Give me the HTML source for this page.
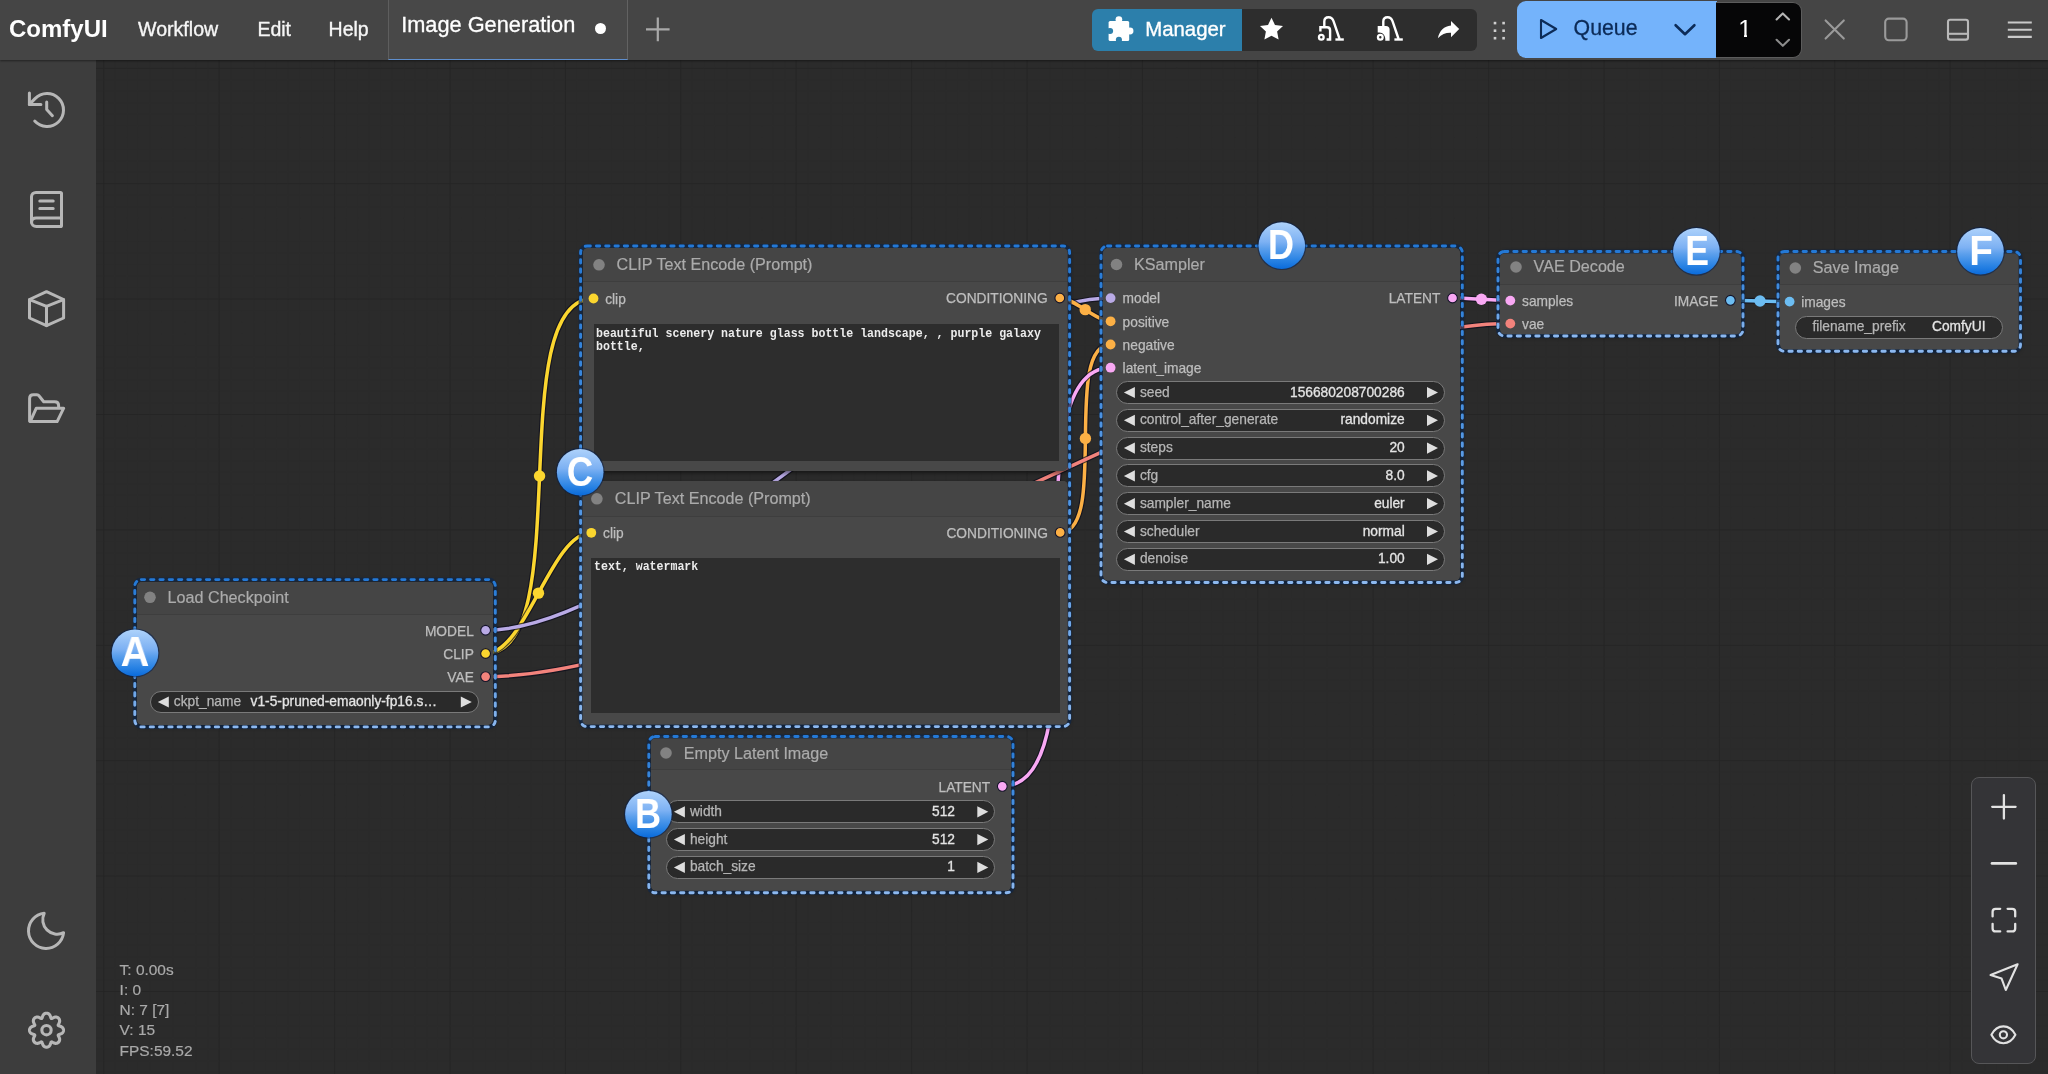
<!DOCTYPE html>
<html lang="en"><head><meta charset="utf-8"><title>ComfyUI</title>
<style>
html,body{margin:0;padding:0;overflow:hidden;}
html{width:2048px;height:1074px;}
body{width:2048px;height:1074px;overflow:hidden;position:relative;background:#2b2b2b;font-family:'Liberation Sans',sans-serif;}
.abs{position:absolute;}
svg{position:absolute;left:0;top:0;overflow:visible;}
</style></head><body><div id="root" style="position:absolute;left:0;top:0;width:2048px;height:1074px;overflow:hidden;will-change:transform;">
<svg width="2048" height="1074" viewBox="0 0 2048 1074">
<defs>
<pattern id="gmin" x="103.3" y="67.8" width="11.540" height="11.540" patternUnits="userSpaceOnUse"><path d="M0 0H11.540M0 0V11.540" stroke="#292929" stroke-width="1" fill="none"/></pattern>
<pattern id="gmaj" x="103.3" y="67.8" width="115.4" height="115.4" patternUnits="userSpaceOnUse"><path d="M0 0H115.4M0 0V115.4" stroke="#232323" stroke-width="1.6" fill="none"/></pattern>
</defs>
<rect x="96" y="60" width="1952" height="1014" fill="url(#gmin)"/>
<rect x="96" y="60" width="1952" height="1014" fill="url(#gmaj)"/>
</svg>
<svg width="2048" height="1074" viewBox="0 0 2048 1074" fill="none" stroke-linecap="round"><path d="M485.60 653.50C578.36 653.50 500.74 298.50 593.50 298.50" stroke="rgba(12,12,28,.72)" stroke-width="5.8"/><path d="M485.60 653.50C578.36 653.50 500.74 298.50 593.50 298.50" stroke="#fbd62f" stroke-width="3.5"/><circle cx="539.55" cy="476.00" r="5.7" fill="#fbd62f"/><path d="M485.60 653.50C525.71 653.50 551.19 532.80 591.30 532.80" stroke="rgba(12,12,28,.72)" stroke-width="5.8"/><path d="M485.60 653.50C525.71 653.50 551.19 532.80 591.30 532.80" stroke="#fbd62f" stroke-width="3.5"/><circle cx="538.45" cy="593.15" r="5.7" fill="#fbd62f"/><path d="M485.60 630.25C662.54 630.25 933.66 298.10 1110.60 298.10" stroke="rgba(12,12,28,.72)" stroke-width="5.8"/><path d="M485.60 630.25C662.54 630.25 933.66 298.10 1110.60 298.10" stroke="#b9aae6" stroke-width="3.5"/><circle cx="798.10" cy="464.18" r="5.7" fill="#b9aae6"/><path d="M1060.20 532.40C1108.84 532.40 1061.96 344.50 1110.60 344.50" stroke="rgba(12,12,28,.72)" stroke-width="5.8"/><path d="M1060.20 532.40C1108.84 532.40 1061.96 344.50 1110.60 344.50" stroke="#fcb045" stroke-width="3.5"/><circle cx="1085.40" cy="438.45" r="5.7" fill="#fcb045"/><path d="M1059.80 298.00C1073.77 298.00 1096.63 321.30 1110.60 321.30" stroke="rgba(12,12,28,.72)" stroke-width="5.8"/><path d="M1059.80 298.00C1073.77 298.00 1096.63 321.30 1110.60 321.30" stroke="#fcb045" stroke-width="3.5"/><circle cx="1085.20" cy="309.65" r="5.7" fill="#fcb045"/><path d="M1002.30 786.30C1110.40 786.30 1002.50 367.70 1110.60 367.70" stroke="rgba(12,12,28,.72)" stroke-width="5.8"/><path d="M1002.30 786.30C1110.40 786.30 1002.50 367.70 1110.60 367.70" stroke="#f9a8f4" stroke-width="3.5"/><circle cx="1056.45" cy="577.00" r="5.7" fill="#f9a8f4"/><path d="M485.60 676.60C756.55 676.60 1239.35 323.60 1510.30 323.60" stroke="rgba(12,12,28,.72)" stroke-width="5.8"/><path d="M485.60 676.60C756.55 676.60 1239.35 323.60 1510.30 323.60" stroke="#f3837c" stroke-width="3.5"/><circle cx="997.95" cy="500.10" r="5.7" fill="#f3837c"/><path d="M1452.50 298.00C1466.96 298.00 1495.84 300.60 1510.30 300.60" stroke="rgba(12,12,28,.72)" stroke-width="5.8"/><path d="M1452.50 298.00C1466.96 298.00 1495.84 300.60 1510.30 300.60" stroke="#f9a8f4" stroke-width="3.5"/><circle cx="1481.40" cy="299.30" r="5.7" fill="#f9a8f4"/><path d="M1730.40 300.30C1745.20 300.30 1774.80 301.60 1789.60 301.60" stroke="rgba(12,12,28,.72)" stroke-width="5.8"/><path d="M1730.40 300.30C1745.20 300.30 1774.80 301.60 1789.60 301.60" stroke="#6cbdf2" stroke-width="3.5"/><circle cx="1760.00" cy="300.95" r="5.7" fill="#6cbdf2"/></svg>
<div class="abs" style="left:137px;top:582px;width:356.00px;height:142.60px;background:#484848;border-radius:5px;box-shadow:1px 2px 4px rgba(0,0,0,.5);"></div>
<div class="abs" style="left:137px;top:582px;width:356.00px;height:32.60px;background:#454545;border-radius:5px 5px 0 0;border-bottom:1.2px solid #3e3e3e;box-sizing:border-box;"></div>
<div style="position:absolute;top:586.66px;line-height:20.99px;font-size:16.15px;color:#ababab;font-weight:400;font-family:'Liberation Sans',sans-serif;white-space:pre;left:167.60px;-webkit-text-stroke:0.2px #ababab;">Load Checkpoint</div>
<div style="position:absolute;top:622.50px;line-height:17.88px;font-size:13.75px;color:#bdbdbd;font-weight:400;font-family:'Liberation Sans',sans-serif;white-space:pre;right:1574.20px;-webkit-text-stroke:0.25px #bdbdbd;">MODEL</div>
<div style="position:absolute;top:645.75px;line-height:17.88px;font-size:13.75px;color:#bdbdbd;font-weight:400;font-family:'Liberation Sans',sans-serif;white-space:pre;right:1574.20px;-webkit-text-stroke:0.25px #bdbdbd;">CLIP</div>
<div style="position:absolute;top:668.85px;line-height:17.88px;font-size:13.75px;color:#bdbdbd;font-weight:400;font-family:'Liberation Sans',sans-serif;white-space:pre;right:1574.20px;-webkit-text-stroke:0.25px #bdbdbd;">VAE</div>
<div class="abs" style="left:150.2px;top:690.60px;width:328.60px;height:22.8px;background:#2a2a2a;border:1.3px solid #7a7a7a;border-radius:12.4px;box-sizing:border-box;"></div>
<div style="position:absolute;top:693.00px;line-height:17.88px;font-size:13.75px;color:#b6b6b6;font-weight:400;font-family:'Liberation Sans',sans-serif;white-space:pre;left:173.80px;-webkit-text-stroke:0.25px #b6b6b6;">ckpt_name</div>
<div style="position:absolute;top:693.00px;line-height:17.88px;font-size:13.75px;color:#e4e4e4;font-weight:400;font-family:'Liberation Sans',sans-serif;white-space:pre;right:1609.50px;-webkit-text-stroke:0.3px #e4e4e4;"></div>
<div style="position:absolute;top:693.00px;line-height:17.88px;font-size:13.75px;color:#e4e4e4;font-weight:400;font-family:'Liberation Sans',sans-serif;white-space:pre;left:250.60px;-webkit-text-stroke:0.3px #e4e4e4;">v1-5-pruned-emaonly-fp16.s…</div>
<div class="abs" style="left:583px;top:248px;width:484.60px;height:223.30px;background:#484848;border-radius:5px;box-shadow:1px 2px 4px rgba(0,0,0,.5);"></div>
<div class="abs" style="left:583px;top:248px;width:484.60px;height:34.40px;background:#454545;border-radius:5px 5px 0 0;border-bottom:1.2px solid #3e3e3e;box-sizing:border-box;"></div>
<div style="position:absolute;top:253.91px;line-height:20.99px;font-size:16.15px;color:#ababab;font-weight:400;font-family:'Liberation Sans',sans-serif;white-space:pre;left:616.60px;-webkit-text-stroke:0.2px #ababab;">CLIP Text Encode (Prompt)</div>
<div style="position:absolute;top:290.75px;line-height:17.88px;font-size:13.75px;color:#bdbdbd;font-weight:400;font-family:'Liberation Sans',sans-serif;white-space:pre;left:605.20px;-webkit-text-stroke:0.25px #bdbdbd;">clip</div>
<div style="position:absolute;top:290.25px;line-height:17.88px;font-size:13.75px;color:#bdbdbd;font-weight:400;font-family:'Liberation Sans',sans-serif;white-space:pre;right:1000.40px;-webkit-text-stroke:0.25px #bdbdbd;">CONDITIONING</div>
<div class="abs" style="left:593.5px;top:324.4px;width:465.30px;height:136.20px;background:#2d2d2d;"></div>
<div style="position:absolute;top:324.53px;line-height:17.55px;font-size:13.5px;color:#ececec;font-weight:700;font-family:'Liberation Mono',monospace;white-space:pre;left:596.00px;transform:scaleX(0.858);transform-origin:left center;">beautiful scenery nature glass bottle landscape, , purple galaxy</div>
<div style="position:absolute;top:338.28px;line-height:17.55px;font-size:13.5px;color:#ececec;font-weight:700;font-family:'Liberation Mono',monospace;white-space:pre;left:596.00px;transform:scaleX(0.858);transform-origin:left center;">bottle,</div>
<div class="abs" style="left:580.8px;top:481px;width:486.80px;height:243.60px;background:#484848;border-radius:5px;box-shadow:1px 2px 4px rgba(0,0,0,.5);"></div>
<div class="abs" style="left:580.8px;top:481px;width:486.80px;height:36.20px;background:#454545;border-radius:5px 5px 0 0;border-bottom:1.2px solid #3e3e3e;box-sizing:border-box;"></div>
<div style="position:absolute;top:488.31px;line-height:20.99px;font-size:16.15px;color:#ababab;font-weight:400;font-family:'Liberation Sans',sans-serif;white-space:pre;left:614.80px;-webkit-text-stroke:0.2px #ababab;">CLIP Text Encode (Prompt)</div>
<div style="position:absolute;top:525.05px;line-height:17.88px;font-size:13.75px;color:#bdbdbd;font-weight:400;font-family:'Liberation Sans',sans-serif;white-space:pre;left:603.00px;-webkit-text-stroke:0.25px #bdbdbd;">clip</div>
<div style="position:absolute;top:524.65px;line-height:17.88px;font-size:13.75px;color:#bdbdbd;font-weight:400;font-family:'Liberation Sans',sans-serif;white-space:pre;right:1000.00px;-webkit-text-stroke:0.25px #bdbdbd;">CONDITIONING</div>
<div class="abs" style="left:591.2px;top:558.0px;width:468.60px;height:155.40px;background:#2d2d2d;"></div>
<div style="position:absolute;top:558.33px;line-height:17.55px;font-size:13.5px;color:#ececec;font-weight:700;font-family:'Liberation Mono',monospace;white-space:pre;left:594.00px;transform:scaleX(0.858);transform-origin:left center;">text, watermark</div>
<div class="abs" style="left:1103px;top:248px;width:357.20px;height:332.80px;background:#484848;border-radius:5px;box-shadow:1px 2px 4px rgba(0,0,0,.5);"></div>
<div class="abs" style="left:1103px;top:248px;width:357.20px;height:34.40px;background:#454545;border-radius:5px 5px 0 0;border-bottom:1.2px solid #3e3e3e;box-sizing:border-box;"></div>
<div style="position:absolute;top:253.71px;line-height:20.99px;font-size:16.15px;color:#ababab;font-weight:400;font-family:'Liberation Sans',sans-serif;white-space:pre;left:1134.00px;-webkit-text-stroke:0.2px #ababab;">KSampler</div>
<div style="position:absolute;top:290.35px;line-height:17.88px;font-size:13.75px;color:#bdbdbd;font-weight:400;font-family:'Liberation Sans',sans-serif;white-space:pre;left:1122.60px;-webkit-text-stroke:0.25px #bdbdbd;">model</div>
<div style="position:absolute;top:313.55px;line-height:17.88px;font-size:13.75px;color:#bdbdbd;font-weight:400;font-family:'Liberation Sans',sans-serif;white-space:pre;left:1122.60px;-webkit-text-stroke:0.25px #bdbdbd;">positive</div>
<div style="position:absolute;top:336.75px;line-height:17.88px;font-size:13.75px;color:#bdbdbd;font-weight:400;font-family:'Liberation Sans',sans-serif;white-space:pre;left:1122.60px;-webkit-text-stroke:0.25px #bdbdbd;">negative</div>
<div style="position:absolute;top:359.95px;line-height:17.88px;font-size:13.75px;color:#bdbdbd;font-weight:400;font-family:'Liberation Sans',sans-serif;white-space:pre;left:1122.60px;-webkit-text-stroke:0.25px #bdbdbd;">latent_image</div>
<div style="position:absolute;top:290.25px;line-height:17.88px;font-size:13.75px;color:#bdbdbd;font-weight:400;font-family:'Liberation Sans',sans-serif;white-space:pre;right:607.60px;-webkit-text-stroke:0.25px #bdbdbd;">LATENT</div>
<div class="abs" style="left:1116.3px;top:381.00px;width:328.70px;height:23.0px;background:#2a2a2a;border:1.3px solid #7a7a7a;border-radius:12.5px;box-sizing:border-box;"></div>
<div style="position:absolute;top:383.50px;line-height:17.88px;font-size:13.75px;color:#b6b6b6;font-weight:400;font-family:'Liberation Sans',sans-serif;white-space:pre;left:1139.90px;-webkit-text-stroke:0.25px #b6b6b6;">seed</div>
<div style="position:absolute;top:383.50px;line-height:17.88px;font-size:13.75px;color:#e4e4e4;font-weight:400;font-family:'Liberation Sans',sans-serif;white-space:pre;right:643.30px;-webkit-text-stroke:0.3px #e4e4e4;">156680208700286</div>
<div class="abs" style="left:1116.3px;top:408.80px;width:328.70px;height:23.0px;background:#2a2a2a;border:1.3px solid #7a7a7a;border-radius:12.5px;box-sizing:border-box;"></div>
<div style="position:absolute;top:411.30px;line-height:17.88px;font-size:13.75px;color:#b6b6b6;font-weight:400;font-family:'Liberation Sans',sans-serif;white-space:pre;left:1139.90px;-webkit-text-stroke:0.25px #b6b6b6;">control_after_generate</div>
<div style="position:absolute;top:411.30px;line-height:17.88px;font-size:13.75px;color:#e4e4e4;font-weight:400;font-family:'Liberation Sans',sans-serif;white-space:pre;right:643.30px;-webkit-text-stroke:0.3px #e4e4e4;">randomize</div>
<div class="abs" style="left:1116.3px;top:436.60px;width:328.70px;height:23.0px;background:#2a2a2a;border:1.3px solid #7a7a7a;border-radius:12.5px;box-sizing:border-box;"></div>
<div style="position:absolute;top:439.10px;line-height:17.88px;font-size:13.75px;color:#b6b6b6;font-weight:400;font-family:'Liberation Sans',sans-serif;white-space:pre;left:1139.90px;-webkit-text-stroke:0.25px #b6b6b6;">steps</div>
<div style="position:absolute;top:439.10px;line-height:17.88px;font-size:13.75px;color:#e4e4e4;font-weight:400;font-family:'Liberation Sans',sans-serif;white-space:pre;right:643.30px;-webkit-text-stroke:0.3px #e4e4e4;">20</div>
<div class="abs" style="left:1116.3px;top:464.40px;width:328.70px;height:23.0px;background:#2a2a2a;border:1.3px solid #7a7a7a;border-radius:12.5px;box-sizing:border-box;"></div>
<div style="position:absolute;top:466.90px;line-height:17.88px;font-size:13.75px;color:#b6b6b6;font-weight:400;font-family:'Liberation Sans',sans-serif;white-space:pre;left:1139.90px;-webkit-text-stroke:0.25px #b6b6b6;">cfg</div>
<div style="position:absolute;top:466.90px;line-height:17.88px;font-size:13.75px;color:#e4e4e4;font-weight:400;font-family:'Liberation Sans',sans-serif;white-space:pre;right:643.30px;-webkit-text-stroke:0.3px #e4e4e4;">8.0</div>
<div class="abs" style="left:1116.3px;top:492.20px;width:328.70px;height:23.0px;background:#2a2a2a;border:1.3px solid #7a7a7a;border-radius:12.5px;box-sizing:border-box;"></div>
<div style="position:absolute;top:494.70px;line-height:17.88px;font-size:13.75px;color:#b6b6b6;font-weight:400;font-family:'Liberation Sans',sans-serif;white-space:pre;left:1139.90px;-webkit-text-stroke:0.25px #b6b6b6;">sampler_name</div>
<div style="position:absolute;top:494.70px;line-height:17.88px;font-size:13.75px;color:#e4e4e4;font-weight:400;font-family:'Liberation Sans',sans-serif;white-space:pre;right:643.30px;-webkit-text-stroke:0.3px #e4e4e4;">euler</div>
<div class="abs" style="left:1116.3px;top:520.00px;width:328.70px;height:23.0px;background:#2a2a2a;border:1.3px solid #7a7a7a;border-radius:12.5px;box-sizing:border-box;"></div>
<div style="position:absolute;top:522.50px;line-height:17.88px;font-size:13.75px;color:#b6b6b6;font-weight:400;font-family:'Liberation Sans',sans-serif;white-space:pre;left:1139.90px;-webkit-text-stroke:0.25px #b6b6b6;">scheduler</div>
<div style="position:absolute;top:522.50px;line-height:17.88px;font-size:13.75px;color:#e4e4e4;font-weight:400;font-family:'Liberation Sans',sans-serif;white-space:pre;right:643.30px;-webkit-text-stroke:0.3px #e4e4e4;">normal</div>
<div class="abs" style="left:1116.3px;top:547.80px;width:328.70px;height:23.0px;background:#2a2a2a;border:1.3px solid #7a7a7a;border-radius:12.5px;box-sizing:border-box;"></div>
<div style="position:absolute;top:550.30px;line-height:17.88px;font-size:13.75px;color:#b6b6b6;font-weight:400;font-family:'Liberation Sans',sans-serif;white-space:pre;left:1139.90px;-webkit-text-stroke:0.25px #b6b6b6;">denoise</div>
<div style="position:absolute;top:550.30px;line-height:17.88px;font-size:13.75px;color:#e4e4e4;font-weight:400;font-family:'Liberation Sans',sans-serif;white-space:pre;right:643.30px;-webkit-text-stroke:0.3px #e4e4e4;">1.00</div>
<div class="abs" style="left:1500px;top:250.2px;width:241.20px;height:84.40px;background:#484848;border-radius:5px;box-shadow:1px 2px 4px rgba(0,0,0,.5);"></div>
<div class="abs" style="left:1500px;top:250.2px;width:241.20px;height:34.40px;background:#454545;border-radius:5px 5px 0 0;border-bottom:1.2px solid #3e3e3e;box-sizing:border-box;"></div>
<div style="position:absolute;top:255.91px;line-height:20.99px;font-size:16.15px;color:#ababab;font-weight:400;font-family:'Liberation Sans',sans-serif;white-space:pre;left:1533.60px;-webkit-text-stroke:0.2px #ababab;">VAE Decode</div>
<div style="position:absolute;top:292.85px;line-height:17.88px;font-size:13.75px;color:#bdbdbd;font-weight:400;font-family:'Liberation Sans',sans-serif;white-space:pre;left:1522.00px;-webkit-text-stroke:0.25px #bdbdbd;">samples</div>
<div style="position:absolute;top:315.85px;line-height:17.88px;font-size:13.75px;color:#bdbdbd;font-weight:400;font-family:'Liberation Sans',sans-serif;white-space:pre;left:1522.00px;-webkit-text-stroke:0.25px #bdbdbd;">vae</div>
<div style="position:absolute;top:292.55px;line-height:17.88px;font-size:13.75px;color:#bdbdbd;font-weight:400;font-family:'Liberation Sans',sans-serif;white-space:pre;right:329.80px;-webkit-text-stroke:0.25px #bdbdbd;">IMAGE</div>
<div class="abs" style="left:1780px;top:251px;width:238.60px;height:99.00px;background:#484848;border-radius:5px;box-shadow:1px 2px 4px rgba(0,0,0,.5);"></div>
<div class="abs" style="left:1780px;top:251px;width:238.60px;height:34.40px;background:#454545;border-radius:5px 5px 0 0;border-bottom:1.2px solid #3e3e3e;box-sizing:border-box;"></div>
<div style="position:absolute;top:256.91px;line-height:20.99px;font-size:16.15px;color:#ababab;font-weight:400;font-family:'Liberation Sans',sans-serif;white-space:pre;left:1812.80px;-webkit-text-stroke:0.2px #ababab;">Save Image</div>
<div style="position:absolute;top:293.85px;line-height:17.88px;font-size:13.75px;color:#bdbdbd;font-weight:400;font-family:'Liberation Sans',sans-serif;white-space:pre;left:1801.20px;-webkit-text-stroke:0.25px #bdbdbd;">images</div>
<div class="abs" style="left:1795.0px;top:316.00px;width:208.30px;height:22.8px;background:#2a2a2a;border:1.3px solid #7a7a7a;border-radius:12.4px;box-sizing:border-box;"></div>
<div style="position:absolute;top:317.60px;line-height:17.88px;font-size:13.75px;color:#b6b6b6;font-weight:400;font-family:'Liberation Sans',sans-serif;white-space:pre;left:1812.40px;-webkit-text-stroke:0.25px #b6b6b6;">filename_prefix</div>
<div style="position:absolute;top:317.60px;line-height:17.88px;font-size:13.75px;color:#e4e4e4;font-weight:400;font-family:'Liberation Sans',sans-serif;white-space:pre;right:62.50px;-webkit-text-stroke:0.3px #e4e4e4;">ComfyUI</div>
<div class="abs" style="left:651px;top:735.8px;width:360.00px;height:155.20px;background:#484848;border-radius:5px;box-shadow:1px 2px 4px rgba(0,0,0,.5);"></div>
<div class="abs" style="left:651px;top:735.8px;width:360.00px;height:34.60px;background:#454545;border-radius:5px 5px 0 0;border-bottom:1.2px solid #3e3e3e;box-sizing:border-box;"></div>
<div style="position:absolute;top:742.71px;line-height:20.99px;font-size:16.15px;color:#ababab;font-weight:400;font-family:'Liberation Sans',sans-serif;white-space:pre;left:683.80px;-webkit-text-stroke:0.2px #ababab;">Empty Latent Image</div>
<div style="position:absolute;top:778.55px;line-height:17.88px;font-size:13.75px;color:#bdbdbd;font-weight:400;font-family:'Liberation Sans',sans-serif;white-space:pre;right:1057.80px;-webkit-text-stroke:0.25px #bdbdbd;">LATENT</div>
<div class="abs" style="left:666.3px;top:800.30px;width:329.00px;height:23.0px;background:#2a2a2a;border:1.3px solid #7a7a7a;border-radius:12.5px;box-sizing:border-box;"></div>
<div style="position:absolute;top:802.80px;line-height:17.88px;font-size:13.75px;color:#b6b6b6;font-weight:400;font-family:'Liberation Sans',sans-serif;white-space:pre;left:689.90px;-webkit-text-stroke:0.25px #b6b6b6;">width</div>
<div style="position:absolute;top:802.80px;line-height:17.88px;font-size:13.75px;color:#e4e4e4;font-weight:400;font-family:'Liberation Sans',sans-serif;white-space:pre;right:1093.00px;-webkit-text-stroke:0.3px #e4e4e4;">512</div>
<div class="abs" style="left:666.3px;top:828.10px;width:329.00px;height:23.0px;background:#2a2a2a;border:1.3px solid #7a7a7a;border-radius:12.5px;box-sizing:border-box;"></div>
<div style="position:absolute;top:830.60px;line-height:17.88px;font-size:13.75px;color:#b6b6b6;font-weight:400;font-family:'Liberation Sans',sans-serif;white-space:pre;left:689.90px;-webkit-text-stroke:0.25px #b6b6b6;">height</div>
<div style="position:absolute;top:830.60px;line-height:17.88px;font-size:13.75px;color:#e4e4e4;font-weight:400;font-family:'Liberation Sans',sans-serif;white-space:pre;right:1093.00px;-webkit-text-stroke:0.3px #e4e4e4;">512</div>
<div class="abs" style="left:666.3px;top:855.90px;width:329.00px;height:23.0px;background:#2a2a2a;border:1.3px solid #7a7a7a;border-radius:12.5px;box-sizing:border-box;"></div>
<div style="position:absolute;top:858.40px;line-height:17.88px;font-size:13.75px;color:#b6b6b6;font-weight:400;font-family:'Liberation Sans',sans-serif;white-space:pre;left:689.90px;-webkit-text-stroke:0.25px #b6b6b6;">batch_size</div>
<div style="position:absolute;top:858.40px;line-height:17.88px;font-size:13.75px;color:#e4e4e4;font-weight:400;font-family:'Liberation Sans',sans-serif;white-space:pre;right:1093.00px;-webkit-text-stroke:0.3px #e4e4e4;">1</div>
<svg width="2048" height="1074" viewBox="0 0 2048 1074"><circle cx="150" cy="597.3" r="5.8" fill="#828282"/><circle cx="485.6" cy="630.25" r="4.9" fill="#b9aae6" stroke="#15152a" stroke-width="1.1"/><circle cx="485.6" cy="653.5" r="4.9" fill="#fbd62f" stroke="#15152a" stroke-width="1.1"/><circle cx="485.6" cy="676.6" r="4.9" fill="#f3837c" stroke="#15152a" stroke-width="1.1"/><path d="M168.80 696.40V707.60L157.80 702.00Z" fill="#dedede"/><path d="M460.80 696.40V707.60L471.80 702.00Z" fill="#dedede"/><circle cx="599" cy="264.8" r="5.8" fill="#828282"/><circle cx="593.5" cy="298.5" r="4.9" fill="#fbd62f"/><circle cx="1059.8" cy="298.0" r="4.9" fill="#fcb045" stroke="#15152a" stroke-width="1.1"/><circle cx="596.9" cy="498.8" r="5.8" fill="#828282"/><circle cx="591.3" cy="532.8" r="4.9" fill="#fbd62f"/><circle cx="1060.2" cy="532.4" r="4.9" fill="#fcb045" stroke="#15152a" stroke-width="1.1"/><circle cx="1116.5" cy="264.5" r="5.8" fill="#828282"/><circle cx="1110.6" cy="298.1" r="4.9" fill="#b9aae6"/><circle cx="1110.6" cy="321.3" r="4.9" fill="#fcb045"/><circle cx="1110.6" cy="344.5" r="4.9" fill="#fcb045"/><circle cx="1110.6" cy="367.70000000000005" r="4.9" fill="#f9a8f4"/><circle cx="1452.5" cy="298.0" r="4.9" fill="#f9a8f4" stroke="#15152a" stroke-width="1.1"/><path d="M1134.90 386.90V398.10L1123.90 392.50Z" fill="#dedede"/><path d="M1427.00 386.90V398.10L1438.00 392.50Z" fill="#dedede"/><path d="M1134.90 414.70V425.90L1123.90 420.30Z" fill="#dedede"/><path d="M1427.00 414.70V425.90L1438.00 420.30Z" fill="#dedede"/><path d="M1134.90 442.50V453.70L1123.90 448.10Z" fill="#dedede"/><path d="M1427.00 442.50V453.70L1438.00 448.10Z" fill="#dedede"/><path d="M1134.90 470.30V481.50L1123.90 475.90Z" fill="#dedede"/><path d="M1427.00 470.30V481.50L1438.00 475.90Z" fill="#dedede"/><path d="M1134.90 498.10V509.30L1123.90 503.70Z" fill="#dedede"/><path d="M1427.00 498.10V509.30L1438.00 503.70Z" fill="#dedede"/><path d="M1134.90 525.90V537.10L1123.90 531.50Z" fill="#dedede"/><path d="M1427.00 525.90V537.10L1438.00 531.50Z" fill="#dedede"/><path d="M1134.90 553.70V564.90L1123.90 559.30Z" fill="#dedede"/><path d="M1427.00 553.70V564.90L1438.00 559.30Z" fill="#dedede"/><circle cx="1516.0" cy="267.0" r="5.8" fill="#828282"/><circle cx="1510.3" cy="300.6" r="4.9" fill="#f9a8f4"/><circle cx="1510.3" cy="323.6" r="4.9" fill="#f3837c"/><circle cx="1730.4" cy="300.3" r="4.9" fill="#6cbdf2" stroke="#15152a" stroke-width="1.1"/><circle cx="1795.3" cy="268.0" r="5.8" fill="#828282"/><circle cx="1789.6" cy="301.6" r="4.9" fill="#6cbdf2"/><circle cx="666.0" cy="753.0" r="5.8" fill="#828282"/><circle cx="1002.3" cy="786.3" r="4.9" fill="#f9a8f4" stroke="#15152a" stroke-width="1.1"/><path d="M684.90 806.20V817.40L673.90 811.80Z" fill="#dedede"/><path d="M977.30 806.20V817.40L988.30 811.80Z" fill="#dedede"/><path d="M684.90 834.00V845.20L673.90 839.60Z" fill="#dedede"/><path d="M977.30 834.00V845.20L988.30 839.60Z" fill="#dedede"/><path d="M684.90 861.80V873.00L673.90 867.40Z" fill="#dedede"/><path d="M977.30 861.80V873.00L988.30 867.40Z" fill="#dedede"/></svg>
<svg width="2048" height="1074" viewBox="0 0 2048 1074" fill="none"><defs><linearGradient id="dg0" gradientUnits="userSpaceOnUse" x1="134.8" y1="579.6" x2="134.8" y2="726.9"><stop offset="0" stop-color="#2479d6"/><stop offset="0.5" stop-color="#4a92e2"/><stop offset="1" stop-color="#8cb8ef"/></linearGradient><linearGradient id="dg1" gradientUnits="userSpaceOnUse" x1="580.6" y1="246.0" x2="580.6" y2="726.6"><stop offset="0" stop-color="#2479d6"/><stop offset="0.5" stop-color="#4a92e2"/><stop offset="1" stop-color="#8cb8ef"/></linearGradient><linearGradient id="dg2" gradientUnits="userSpaceOnUse" x1="1101.0" y1="246.0" x2="1101.0" y2="582.5"><stop offset="0" stop-color="#2479d6"/><stop offset="0.5" stop-color="#4a92e2"/><stop offset="1" stop-color="#8cb8ef"/></linearGradient><linearGradient id="dg3" gradientUnits="userSpaceOnUse" x1="1498.0" y1="251.5" x2="1498.0" y2="336.0"><stop offset="0" stop-color="#2479d6"/><stop offset="0.5" stop-color="#4a92e2"/><stop offset="1" stop-color="#8cb8ef"/></linearGradient><linearGradient id="dg4" gradientUnits="userSpaceOnUse" x1="1778.0" y1="251.5" x2="1778.0" y2="351.3"><stop offset="0" stop-color="#2479d6"/><stop offset="0.5" stop-color="#4a92e2"/><stop offset="1" stop-color="#8cb8ef"/></linearGradient><linearGradient id="dg5" gradientUnits="userSpaceOnUse" x1="648.8" y1="736.5" x2="648.8" y2="892.8"><stop offset="0" stop-color="#2479d6"/><stop offset="0.5" stop-color="#4a92e2"/><stop offset="1" stop-color="#8cb8ef"/></linearGradient></defs><rect x="134.8" y="579.6" width="360.50" height="147.30" rx="6.5" stroke="#0e2748" stroke-opacity=".7" stroke-width="4.0"/><rect x="134.8" y="579.6" width="360.50" height="147.30" rx="6.5" stroke="url(#dg0)" stroke-width="2.9" stroke-linecap="round" stroke-dasharray="3.3 6.0"/><rect x="580.6" y="246.0" width="489.00" height="480.60" rx="6.5" stroke="#0e2748" stroke-opacity=".7" stroke-width="4.0"/><rect x="580.6" y="246.0" width="489.00" height="480.60" rx="6.5" stroke="url(#dg1)" stroke-width="2.9" stroke-linecap="round" stroke-dasharray="3.3 6.0"/><rect x="1101.0" y="246.0" width="361.30" height="336.50" rx="6.5" stroke="#0e2748" stroke-opacity=".7" stroke-width="4.0"/><rect x="1101.0" y="246.0" width="361.30" height="336.50" rx="6.5" stroke="url(#dg2)" stroke-width="2.9" stroke-linecap="round" stroke-dasharray="3.3 6.0"/><rect x="1498.0" y="251.5" width="245.00" height="84.50" rx="6.5" stroke="#0e2748" stroke-opacity=".7" stroke-width="4.0"/><rect x="1498.0" y="251.5" width="245.00" height="84.50" rx="6.5" stroke="url(#dg3)" stroke-width="2.9" stroke-linecap="round" stroke-dasharray="3.3 6.0"/><rect x="1778.0" y="251.5" width="242.50" height="99.80" rx="6.5" stroke="#0e2748" stroke-opacity=".7" stroke-width="4.0"/><rect x="1778.0" y="251.5" width="242.50" height="99.80" rx="6.5" stroke="url(#dg4)" stroke-width="2.9" stroke-linecap="round" stroke-dasharray="3.3 6.0"/><rect x="648.8" y="736.5" width="364.20" height="156.30" rx="6.5" stroke="#0e2748" stroke-opacity=".7" stroke-width="4.0"/><rect x="648.8" y="736.5" width="364.20" height="156.30" rx="6.5" stroke="url(#dg5)" stroke-width="2.9" stroke-linecap="round" stroke-dasharray="3.3 6.0"/></svg>
<svg width="2048" height="1074" viewBox="0 0 2048 1074"><defs><linearGradient id="bg" x1="0" y1="0" x2="0" y2="1"><stop offset="0" stop-color="#aed2fb"/><stop offset="0.42" stop-color="#7db1f3"/><stop offset="0.56" stop-color="#5b9fec"/><stop offset="0.8" stop-color="#2b84e4"/><stop offset="1" stop-color="#0a6bdb"/></linearGradient></defs><circle cx="135.0" cy="652.9" r="24.5" fill="#061f4e" fill-opacity=".55"/><circle cx="135.0" cy="652.9" r="23.3" fill="url(#bg)"/><circle cx="648.4" cy="814.2" r="24.5" fill="#061f4e" fill-opacity=".55"/><circle cx="648.4" cy="814.2" r="23.3" fill="url(#bg)"/><circle cx="580.2" cy="472.2" r="24.5" fill="#061f4e" fill-opacity=".55"/><circle cx="580.2" cy="472.2" r="23.3" fill="url(#bg)"/><circle cx="1281.8" cy="245.6" r="24.5" fill="#061f4e" fill-opacity=".55"/><circle cx="1281.8" cy="245.6" r="23.3" fill="url(#bg)"/><circle cx="1696.4" cy="251.3" r="24.5" fill="#061f4e" fill-opacity=".55"/><circle cx="1696.4" cy="251.3" r="23.3" fill="url(#bg)"/><circle cx="1980.5" cy="251.3" r="24.5" fill="#061f4e" fill-opacity=".55"/><circle cx="1980.5" cy="251.3" r="23.3" fill="url(#bg)"/></svg>
<div style="position:absolute;top:624.20px;line-height:55.77px;font-size:42.9px;color:#ffffff;font-weight:700;font-family:'Liberation Sans',sans-serif;white-space:pre;left:94.70px;width:80px;text-align:center;transform:scaleX(0.927);">A</div>
<div style="position:absolute;top:785.50px;line-height:55.77px;font-size:42.9px;color:#ffffff;font-weight:700;font-family:'Liberation Sans',sans-serif;white-space:pre;left:607.80px;width:80px;text-align:center;transform:scaleX(0.84);">B</div>
<div style="position:absolute;top:443.50px;line-height:55.77px;font-size:42.9px;color:#ffffff;font-weight:700;font-family:'Liberation Sans',sans-serif;white-space:pre;left:540.35px;width:80px;text-align:center;transform:scaleX(0.85);">C</div>
<div style="position:absolute;top:216.90px;line-height:55.77px;font-size:42.9px;color:#ffffff;font-weight:700;font-family:'Liberation Sans',sans-serif;white-space:pre;left:1241.30px;width:80px;text-align:center;transform:scaleX(0.84);">D</div>
<div style="position:absolute;top:222.60px;line-height:55.77px;font-size:42.9px;color:#ffffff;font-weight:700;font-family:'Liberation Sans',sans-serif;white-space:pre;left:1656.80px;width:80px;text-align:center;transform:scaleX(0.828);">E</div>
<div style="position:absolute;top:222.60px;line-height:55.77px;font-size:42.9px;color:#ffffff;font-weight:700;font-family:'Liberation Sans',sans-serif;white-space:pre;left:1940.90px;width:80px;text-align:center;transform:scaleX(0.9);">F</div>
<div style="position:absolute;top:960.00px;line-height:20.09px;font-size:15.45px;color:#a9a9a9;font-weight:400;font-family:'Liberation Sans',sans-serif;white-space:pre;left:119.60px;-webkit-text-stroke:0.2px #a9a9a9;">T: 0.00s</div>
<div style="position:absolute;top:980.00px;line-height:20.09px;font-size:15.45px;color:#a9a9a9;font-weight:400;font-family:'Liberation Sans',sans-serif;white-space:pre;left:119.60px;-webkit-text-stroke:0.2px #a9a9a9;">I: 0</div>
<div style="position:absolute;top:1000.10px;line-height:20.09px;font-size:15.45px;color:#a9a9a9;font-weight:400;font-family:'Liberation Sans',sans-serif;white-space:pre;left:119.60px;-webkit-text-stroke:0.2px #a9a9a9;">N: 7 [7]</div>
<div style="position:absolute;top:1020.30px;line-height:20.09px;font-size:15.45px;color:#a9a9a9;font-weight:400;font-family:'Liberation Sans',sans-serif;white-space:pre;left:119.60px;-webkit-text-stroke:0.2px #a9a9a9;">V: 15</div>
<div style="position:absolute;top:1040.60px;line-height:20.09px;font-size:15.45px;color:#a9a9a9;font-weight:400;font-family:'Liberation Sans',sans-serif;white-space:pre;left:119.60px;-webkit-text-stroke:0.2px #a9a9a9;">FPS:59.52</div>
<div class="abs" style="left:1970.6px;top:776.8px;width:63.6px;height:285.4px;background:#343437;border:1px solid #565658;border-radius:8px;"></div>
<svg width="2048" height="1074" viewBox="0 0 2048 1074" fill="none" stroke="#e2e2e2" stroke-width="2.3" stroke-linecap="round" stroke-linejoin="round"><path d="M1992.2 806.8H2015.6M2003.9 795.1V818.5"/><path d="M1992.0 863.4H2015.8" stroke-width="2.7"/><path d="M1992.6 916.4V911.8Q1992.6 908.8 1995.6 908.8H2000.1999999999998"/><path d="M2007.6000000000001 908.8H2012.2Q2015.2 908.8 2015.2 911.8V916.4"/><path d="M2015.2 923.8V928.4Q2015.2 931.4 2012.2 931.4H2007.6000000000001"/><path d="M2000.1999999999998 931.4H1995.6Q1992.6 931.4 1992.6 928.4V923.8"/><path d="M2017.6 964.2L1990.6 975.0L2001.6 978.6L2005.8 990.0Z" stroke-width="2.1"/><path d="M1991.4 1034.8C1994.4 1029.0 1998.8 1026.4 2003.4 1026.4C2008.0 1026.4 2012.4 1029.0 2015.4 1034.8C2012.4 1040.6 2008.0 1043.2 2003.4 1043.2C1998.8 1043.2 1994.4 1040.6 1991.4 1034.8Z" stroke-width="2.1"/><circle cx="2003.4" cy="1034.8" r="3.6" stroke-width="2.1"/></svg>
<div class="abs" style="left:0;top:60px;width:96px;height:1014px;background:#3d3d3d;"></div>
<svg width="96" height="1074" viewBox="0 0 96 1074" fill="none" stroke="#b7b7b7" stroke-width="3.0" stroke-linecap="round" stroke-linejoin="round"><path d="M29.4 104.4L35.03 98.64A16.5 16.5 0 1 1 34.74 121.04"/><path d="M29.4 92.9V104.4H40.9"/><path d="M46.7 102.0V109.6L52.4 115.7"/><path d="M36.0 192.4H60.4Q61.5 192.4 61.5 193.5V225.4Q61.5 226.5 60.4 226.5H36.4C33.4 226.5 31.5 224.4 31.5 222.0V196.8C31.5 194.2 33.4 192.4 36.0 192.4Z"/><path d="M31.6 222.2C31.6 219.6 33.4 217.9 36.2 217.9H61.4"/><path d="M39.8 200.9H53.2M39.8 208.4H53.2"/><path d="M46.5 291.7L63.6 299.5V318.0L46.5 325.7L29.5 318.0V299.5Z"/><path d="M29.7 299.6L46.5 306.4L63.4 299.6M46.5 306.4V325.5"/><path d="M29.6 421.0V398.6C29.6 396.2 31.0 394.8 33.4 394.8H37.0C38.0 394.8 38.6 395.2 39.2 396.0L43.7 401.7H54.6C57.2 401.7 58.6 403.2 58.6 405.6V407.4"/><path d="M30.2 421.6L36.3 408.2H63.7L57.1 421.6Z"/><path d="M44.2 913.3A17.6 17.6 0 1 0 63.6 932.7A14.5 14.5 0 0 1 44.2 913.3Z"/><path d="M63.50 1030.20L63.47 1030.68L63.38 1031.15L63.23 1031.61L63.02 1032.04L62.77 1032.44L62.47 1032.82L62.13 1033.15L61.76 1033.44L61.35 1033.69L60.88 1033.89L60.42 1034.06L60.02 1034.20L59.66 1034.33L59.33 1034.44L59.04 1034.54L58.80 1034.64L58.59 1034.73L58.43 1034.83L58.31 1034.94L58.23 1035.06L58.20 1035.20L58.21 1035.36L58.25 1035.54L58.33 1035.76L58.44 1036.00L58.58 1036.27L58.73 1036.58L58.89 1036.93L59.07 1037.32L59.28 1037.76L59.47 1038.23L59.58 1038.70L59.64 1039.17L59.64 1039.64L59.59 1040.12L59.49 1040.58L59.32 1041.03L59.11 1041.46L58.84 1041.86L58.52 1042.22L58.16 1042.54L57.76 1042.81L57.33 1043.02L56.88 1043.19L56.42 1043.29L55.94 1043.34L55.47 1043.34L55.00 1043.28L54.53 1043.17L54.06 1042.98L53.62 1042.77L53.23 1042.59L52.88 1042.43L52.57 1042.28L52.30 1042.14L52.06 1042.03L51.84 1041.95L51.66 1041.91L51.50 1041.90L51.36 1041.93L51.24 1042.01L51.13 1042.13L51.03 1042.29L50.94 1042.50L50.84 1042.74L50.74 1043.03L50.63 1043.36L50.50 1043.72L50.36 1044.12L50.19 1044.58L49.99 1045.05L49.74 1045.46L49.45 1045.83L49.12 1046.17L48.74 1046.47L48.34 1046.72L47.91 1046.93L47.45 1047.08L46.98 1047.17L46.50 1047.20L46.02 1047.17L45.55 1047.08L45.09 1046.93L44.66 1046.72L44.26 1046.47L43.88 1046.17L43.55 1045.83L43.26 1045.46L43.01 1045.05L42.81 1044.58L42.64 1044.12L42.50 1043.72L42.37 1043.36L42.26 1043.03L42.16 1042.74L42.06 1042.50L41.97 1042.29L41.87 1042.13L41.76 1042.01L41.64 1041.93L41.50 1041.90L41.34 1041.91L41.16 1041.95L40.94 1042.03L40.70 1042.14L40.43 1042.28L40.12 1042.43L39.77 1042.59L39.38 1042.77L38.94 1042.98L38.47 1043.17L38.00 1043.28L37.53 1043.34L37.06 1043.34L36.58 1043.29L36.12 1043.19L35.67 1043.02L35.24 1042.81L34.84 1042.54L34.48 1042.22L34.16 1041.86L33.89 1041.46L33.68 1041.03L33.51 1040.58L33.41 1040.12L33.36 1039.64L33.36 1039.17L33.42 1038.70L33.53 1038.23L33.72 1037.76L33.93 1037.32L34.11 1036.93L34.27 1036.58L34.42 1036.27L34.56 1036.00L34.67 1035.76L34.75 1035.54L34.79 1035.36L34.80 1035.20L34.77 1035.06L34.69 1034.94L34.57 1034.83L34.41 1034.73L34.20 1034.64L33.96 1034.54L33.67 1034.44L33.34 1034.33L32.98 1034.20L32.58 1034.06L32.12 1033.89L31.65 1033.69L31.24 1033.44L30.87 1033.15L30.53 1032.82L30.23 1032.44L29.98 1032.04L29.77 1031.61L29.62 1031.15L29.53 1030.68L29.50 1030.20L29.53 1029.72L29.62 1029.25L29.77 1028.79L29.98 1028.36L30.23 1027.96L30.53 1027.58L30.87 1027.25L31.24 1026.96L31.65 1026.71L32.12 1026.51L32.58 1026.34L32.98 1026.20L33.34 1026.07L33.67 1025.96L33.96 1025.86L34.20 1025.76L34.41 1025.67L34.57 1025.57L34.69 1025.46L34.77 1025.34L34.80 1025.20L34.79 1025.04L34.75 1024.86L34.67 1024.64L34.56 1024.40L34.42 1024.13L34.27 1023.82L34.11 1023.47L33.93 1023.08L33.72 1022.64L33.53 1022.17L33.42 1021.70L33.36 1021.23L33.36 1020.76L33.41 1020.28L33.51 1019.82L33.68 1019.37L33.89 1018.94L34.16 1018.54L34.48 1018.18L34.84 1017.86L35.24 1017.59L35.67 1017.38L36.12 1017.21L36.58 1017.11L37.06 1017.06L37.53 1017.06L38.00 1017.12L38.47 1017.23L38.94 1017.42L39.38 1017.63L39.77 1017.81L40.12 1017.97L40.43 1018.12L40.70 1018.26L40.94 1018.37L41.16 1018.45L41.34 1018.49L41.50 1018.50L41.64 1018.47L41.76 1018.39L41.87 1018.27L41.97 1018.11L42.06 1017.90L42.16 1017.66L42.26 1017.37L42.37 1017.04L42.50 1016.68L42.64 1016.28L42.81 1015.82L43.01 1015.35L43.26 1014.94L43.55 1014.57L43.88 1014.23L44.26 1013.93L44.66 1013.68L45.09 1013.47L45.55 1013.32L46.02 1013.23L46.50 1013.20L46.98 1013.23L47.45 1013.32L47.91 1013.47L48.34 1013.68L48.74 1013.93L49.12 1014.23L49.45 1014.57L49.74 1014.94L49.99 1015.35L50.19 1015.82L50.36 1016.28L50.50 1016.68L50.63 1017.04L50.74 1017.37L50.84 1017.66L50.94 1017.90L51.03 1018.11L51.13 1018.27L51.24 1018.39L51.36 1018.47L51.50 1018.50L51.66 1018.49L51.84 1018.45L52.06 1018.37L52.30 1018.26L52.57 1018.12L52.88 1017.97L53.23 1017.81L53.62 1017.63L54.06 1017.42L54.53 1017.23L55.00 1017.12L55.47 1017.06L55.94 1017.06L56.42 1017.11L56.88 1017.21L57.33 1017.38L57.76 1017.59L58.16 1017.86L58.52 1018.18L58.84 1018.54L59.11 1018.94L59.32 1019.37L59.49 1019.82L59.59 1020.28L59.64 1020.76L59.64 1021.23L59.58 1021.70L59.47 1022.17L59.28 1022.64L59.07 1023.08L58.89 1023.47L58.73 1023.82L58.58 1024.13L58.44 1024.40L58.33 1024.64L58.25 1024.86L58.21 1025.04L58.20 1025.20L58.23 1025.34L58.31 1025.46L58.43 1025.57L58.59 1025.67L58.80 1025.76L59.04 1025.86L59.33 1025.96L59.66 1026.07L60.02 1026.20L60.42 1026.34L60.88 1026.51L61.35 1026.71L61.76 1026.96L62.13 1027.25L62.47 1027.58L62.77 1027.96L63.02 1028.36L63.23 1028.79L63.38 1029.25L63.47 1029.72L63.50 1030.20Z" stroke-width="3.1"/><circle cx="46.5" cy="1030.2" r="4.65" stroke-width="3.1"/></svg>
<div class="abs" style="left:0;top:0;width:2048px;height:60px;background:#454545;box-shadow:0 1px 2px rgba(0,0,0,.45);"></div>
<div style="position:absolute;top:12.68px;line-height:31.2px;font-size:24.0px;color:#ffffff;font-weight:700;font-family:'Liberation Sans',sans-serif;white-space:pre;left:9.00px;">ComfyUI</div>
<div style="position:absolute;top:16.67px;line-height:25.48px;font-size:19.6px;color:#f6f6f6;font-weight:400;font-family:'Liberation Sans',sans-serif;white-space:pre;left:138.00px;-webkit-text-stroke:0.35px #f6f6f6;">Workflow</div>
<div style="position:absolute;top:16.77px;line-height:25.35px;font-size:19.5px;color:#f6f6f6;font-weight:400;font-family:'Liberation Sans',sans-serif;white-space:pre;left:257.40px;-webkit-text-stroke:0.35px #f6f6f6;">Edit</div>
<div style="position:absolute;top:16.77px;line-height:25.35px;font-size:19.5px;color:#f6f6f6;font-weight:400;font-family:'Liberation Sans',sans-serif;white-space:pre;left:328.60px;-webkit-text-stroke:0.35px #f6f6f6;">Help</div>
<div class="abs" style="left:388px;top:0;width:238px;height:58.8px;background:#484848;border-left:1px solid #5e5e5e;border-right:1px solid #626262;border-bottom:1.3px solid #5f8fce;box-sizing:content-box;"></div>
<div style="position:absolute;top:11.42px;line-height:28.28px;font-size:21.75px;color:#ffffff;font-weight:400;font-family:'Liberation Sans',sans-serif;white-space:pre;left:401.20px;-webkit-text-stroke:0.3px #ffffff;">Image Generation</div>
<div class="abs" style="left:594.8px;top:22.8px;width:11.6px;height:11.6px;border-radius:50%;background:#ffffff;"></div>
<svg width="2048" height="60" viewBox="0 0 2048 60"><path d="M646 29.4H669.6M657.8 17.6V41.2" stroke="#a9a9a9" stroke-width="2.2" fill="none"/></svg>
<div class="abs" style="left:1092px;top:8.9px;width:150.3px;height:41.9px;background:#2c7fab;border-radius:6px 0 0 6px;"></div>
<div class="abs" style="left:1242.3px;top:9px;width:235.2px;height:41.6px;background:#2d2d2d;border-radius:0 6px 6px 0;"></div>
<div style="position:absolute;top:15.92px;line-height:26.52px;font-size:20.4px;color:#ffffff;font-weight:400;font-family:'Liberation Sans',sans-serif;white-space:pre;left:1145.20px;-webkit-text-stroke:0.35px #ffffff;">Manager</div>
<svg width="2048" height="60" viewBox="0 0 2048 60"><rect x="1108.6" y="20.9" width="20.6" height="20.1" rx="1.6" fill="#fff"/><circle cx="1118.9" cy="19.6" r="3.35" fill="#fff"/><rect x="1116.4" y="19.6" width="5.0" height="3" fill="#fff"/><circle cx="1130.0" cy="31.0" r="3.45" fill="#fff"/><circle cx="1110.1" cy="31.0" r="3.05" fill="#2c7fab"/><rect x="1107.6" y="28.6" width="2.4" height="4.8" fill="#2c7fab"/><circle cx="1118.9" cy="39.7" r="3.05" fill="#2c7fab"/><rect x="1116.5" y="39.7" width="4.8" height="2.4" fill="#2c7fab"/><polygon points="1271.50,17.70 1274.97,25.03 1283.01,26.06 1277.11,31.62 1278.61,39.59 1271.50,35.70 1264.39,39.59 1265.89,31.62 1259.99,26.06 1268.03,25.03" fill="#fff"/><path d="M1324.30 27.0V21.6C1324.30 18.6 1326.20 17.3 1328.60 17.3C1331.20 17.3 1332.60 18.6 1333.60 21.4L1339.60 39.0" fill="none" stroke="#fff" stroke-width="2.4" stroke-linecap="butt" stroke-linejoin="round"/><path d="M1335.40 39.5H1343.80" stroke="#fff" stroke-width="2.4" stroke-linecap="butt"/><path d="M1320.40 31.6V27.2H1327.00C1329.00 27.2 1330.10 28.4 1330.10 30.4V39.5H1326.60" fill="none" stroke="#fff" stroke-width="2.4" stroke-linecap="butt" stroke-linejoin="miter"/><circle cx="1321.30" cy="37.3" r="2.35" fill="none" stroke="#fff" stroke-width="2.3"/><path d="M1383.30 27.0V21.6C1383.30 18.6 1385.20 17.3 1387.60 17.3C1390.20 17.3 1391.60 18.6 1392.60 21.4L1398.60 39.0" fill="none" stroke="#fff" stroke-width="2.4" stroke-linecap="butt" stroke-linejoin="round"/><path d="M1394.40 39.5H1402.80" stroke="#fff" stroke-width="2.4" stroke-linecap="butt"/><path d="M1377.70 26.0H1386.00C1388.20 26.0 1389.60 27.4 1389.60 29.6V40.7H1385.30C1386.00 35.2 1382.00 31.4 1377.70 32.6Z" fill="#fff"/><circle cx="1380.30" cy="37.3" r="2.35" fill="none" stroke="#fff" stroke-width="2.3"/><path d="M1451.0 20.9L1459.2 29.1L1451.0 37.3V32.8C1446.0 32.6 1441.8 34.0 1437.9 38.2C1439.4 30.6 1444.2 26.0 1451.0 25.4Z" fill="#fff"/><rect x="1493.7" y="21.8" width="2.6" height="2.6" fill="#cfcfcf"/><rect x="1493.7" y="29.4" width="2.6" height="2.6" fill="#cfcfcf"/><rect x="1493.7" y="36.900000000000006" width="2.6" height="2.6" fill="#cfcfcf"/><rect x="1502.3" y="21.8" width="2.6" height="2.6" fill="#cfcfcf"/><rect x="1502.3" y="29.4" width="2.6" height="2.6" fill="#cfcfcf"/><rect x="1502.3" y="36.900000000000006" width="2.6" height="2.6" fill="#cfcfcf"/></svg>
<div class="abs" style="left:1517.2px;top:1.3px;width:199.4px;height:56.6px;background:#74b3fb;border-radius:9px 0 0 9px;"></div>
<div class="abs" style="left:1716.4px;top:2.4px;width:84.4px;height:53.4px;background:#060607;border:1px solid #5c5c5c;border-left:none;border-radius:0 9px 9px 0;"></div>
<div style="position:absolute;top:15.02px;line-height:27.69px;font-size:21.3px;color:#0c2b57;font-weight:400;font-family:'Liberation Sans',sans-serif;white-space:pre;left:1573.60px;-webkit-text-stroke:0.3px #0c2b57;">Queue</div>
<div style="position:absolute;top:13.19px;line-height:31.72px;font-size:24.4px;color:#ffffff;font-weight:400;font-family:'Liberation Sans',sans-serif;white-space:pre;left:1738.20px;">1</div>
<div class="abs" style="left:1739px;top:34.4px;width:4.9px;height:3.6px;background:#060607;"></div><div class="abs" style="left:1747.1px;top:34.4px;width:5px;height:3.6px;background:#060607;"></div>
<svg width="2048" height="60" viewBox="0 0 2048 60"><path d="M1541 20.0L1556.2 29.0L1541 38.0Z" fill="none" stroke="#0c2b57" stroke-width="2.1" stroke-linejoin="round"/><path d="M1675.6 25.2L1685.0 34.2L1694.4 25.2" fill="none" stroke="#0c2b57" stroke-width="2.6" stroke-linecap="round" stroke-linejoin="round"/><path d="M1776.6 19.4L1782.8 13.4L1789.0 19.4" fill="none" stroke="#b4b4b4" stroke-width="2.1" stroke-linecap="round" stroke-linejoin="round"/><path d="M1776.6 39.8L1782.8 45.8L1789.0 39.8" fill="none" stroke="#8c8c8c" stroke-width="2.1" stroke-linecap="round" stroke-linejoin="round"/><path d="M1825.6 20.4L1843.8 38.6M1843.8 20.4L1825.6 38.6" stroke="#9a9a9a" stroke-width="2.1" stroke-linecap="round"/><rect x="1885.2" y="18.6" width="21.4" height="21.6" rx="3.6" fill="none" stroke="#9a9a9a" stroke-width="2.1"/><rect x="1948.0" y="19.8" width="20.0" height="19.8" rx="2.2" fill="none" stroke="#b9b9b9" stroke-width="2.1"/><path d="M1948.0 33.8H1968.0" stroke="#b9b9b9" stroke-width="2.1"/><path d="M2007.8 22.5H2031.8M2007.8 29.7H2031.8M2007.8 36.9H2031.8" stroke="#c9c9c9" stroke-width="2.1"/></svg>
</div></body></html>
